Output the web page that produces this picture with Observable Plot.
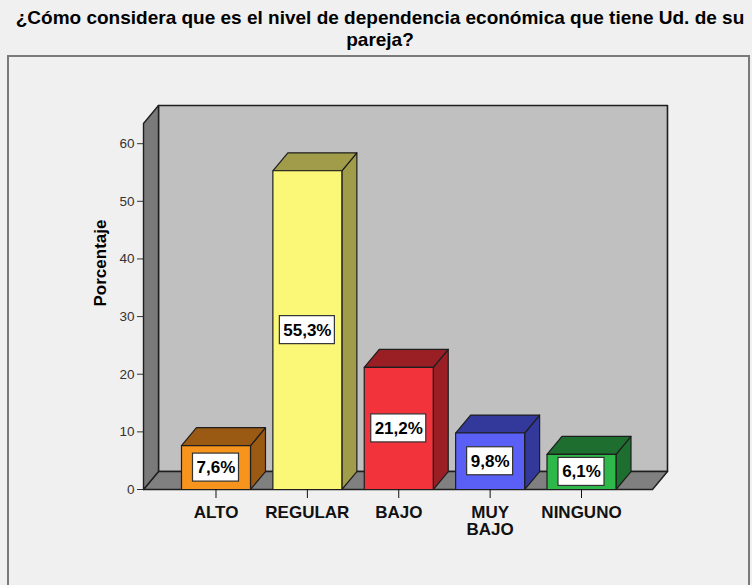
<!DOCTYPE html>
<html><head><meta charset="utf-8">
<script src="https://cdn.jsdelivr.net/npm/d3@7"></script>
<script src="https://cdn.jsdelivr.net/npm/@observablehq/plot@0.6"></script>
<style>
body{margin:0;background:#f0f0f0;font-family:"Liberation Sans",Arial,sans-serif;width:752px;height:585px;overflow:hidden;position:relative}
#title{position:absolute;left:0;top:7px;width:760px;text-align:center;font-weight:bold;font-size:19px;line-height:22px;color:#000;white-space:nowrap}
#frame{position:absolute;left:7px;top:55px;width:739px;height:600px;border:2px solid #7a7a7a}
#chart{position:absolute;left:0;top:57px}
</style></head>
<body>
<div id="title">¿Cómo considera que es el nivel de dependencia económica que tiene Ud. de su<br>pareja?</div>
<div id="frame"></div>
<div id="chart"></div>
<script>
const categories = ["ALTO", "REGULAR", "BAJO", "MUY\nBAJO", "NINGUNO"];
const values = [7.6, 55.3, 21.2, 9.8, 6.1];
const frontColors = ["#f7941d", "#fbf877", "#f2333b", "#5a60f6", "#2eb84a"];
const sideColors = ["#9a5a13", "#a09c4a", "#9a1f25", "#33389b", "#1e6e2f"];
const yTicks = [0, 10, 20, 30, 40, 50, 60];

// geometry (in scale units)
const X0 = -0.7934, X1 = 4.777, YMAX = 63.5;
const HW = 0.3776, DX = 0.164, DY = 3.12;
const STEP = 91.375, PXY = 366 / YMAX;

const outline = "#1e1e1e";
const poly = (pts, fill, sw = 1.2) => Plot.line(pts.map(([x, y]) => ({x, y})), {
  x: "x", y: "y", curve: "linear-closed", fill, stroke: outline, strokeWidth: sw, strokeLinejoin: "round"
});

const marks = [];
// back plane
marks.push(poly([[X0 + DX, DY], [X1 + DX, DY], [X1 + DX, YMAX + DY], [X0 + DX, YMAX + DY]], "#c0c0c0", 1.6));
// floor
marks.push(poly([[X0, 0], [X1, 0], [X1 + DX, DY], [X0 + DX, DY]], "#808080", 1.4));
// left wall
marks.push(poly([[X0, 0], [X0, YMAX], [X0 + DX, YMAX + DY], [X0 + DX, DY]], "#7a7a7a", 1.4));

values.forEach((v, i) => {
  const a = i - HW, b = i + HW;
  marks.push(poly([[b, 0], [b + DX, DY], [b + DX, v + DY], [b, v]], sideColors[i]));
  marks.push(poly([[a, v], [b, v], [b + DX, v + DY], [a + DX, v + DY]], sideColors[i]));
  marks.push(poly([[a, 0], [b, 0], [b, v], [a, v]], frontColors[i]));
});

const labels = values.map((v, i) => {
  const text = v.toFixed(1).replace(".", ",") + "%";
  const wpx = 10 + 9 * text.length;
  return {i, v, text, w: wpx / 2 / STEP, h: 14 / PXY};
});

marks.push(Plot.rect(labels, {
  x1: d => d.i - d.w, x2: d => d.i + d.w,
  y1: d => d.v / 2 - d.h, y2: d => d.v / 2 + d.h,
  fill: "white", stroke: "#333", strokeWidth: 1.2
}));
marks.push(Plot.text(labels, {
  x: "i", y: d => d.v / 2, text: "text", fontSize: 17, fontWeight: "bold", fill: "#000"
}));

marks.push(Plot.axisY({ticks: yTicks, tickSize: 6, tickPadding: 3, fontSize: 13.5, color: "#333", label: null}));
marks.push(Plot.axisX({
  ticks: categories.map((c, i) => i), tickFormat: i => categories[i],
  tickSize: 9, tickPadding: 7, fontSize: 17, fontWeight: "bold", color: "#111", label: null, lineHeight: 1
}));
marks.push(Plot.text(["Porcentaje"], {
  frameAnchor: "left", dx: -43, rotate: -90, text: d => d, fontSize: 17, fontWeight: "bold", fill: "#000"
}));

const chart = Plot.plot({
  width: 752, height: 528,
  marginLeft: 143, marginRight: 100, marginTop: 66, marginBottom: 96,
  style: {background: "transparent", fontFamily: "Liberation Sans, Arial, sans-serif"},
  x: {type: "linear", domain: [X0, X1]},
  y: {domain: [0, YMAX]},
  marks
});
document.getElementById("chart").appendChild(chart);
</script>
</body></html>
